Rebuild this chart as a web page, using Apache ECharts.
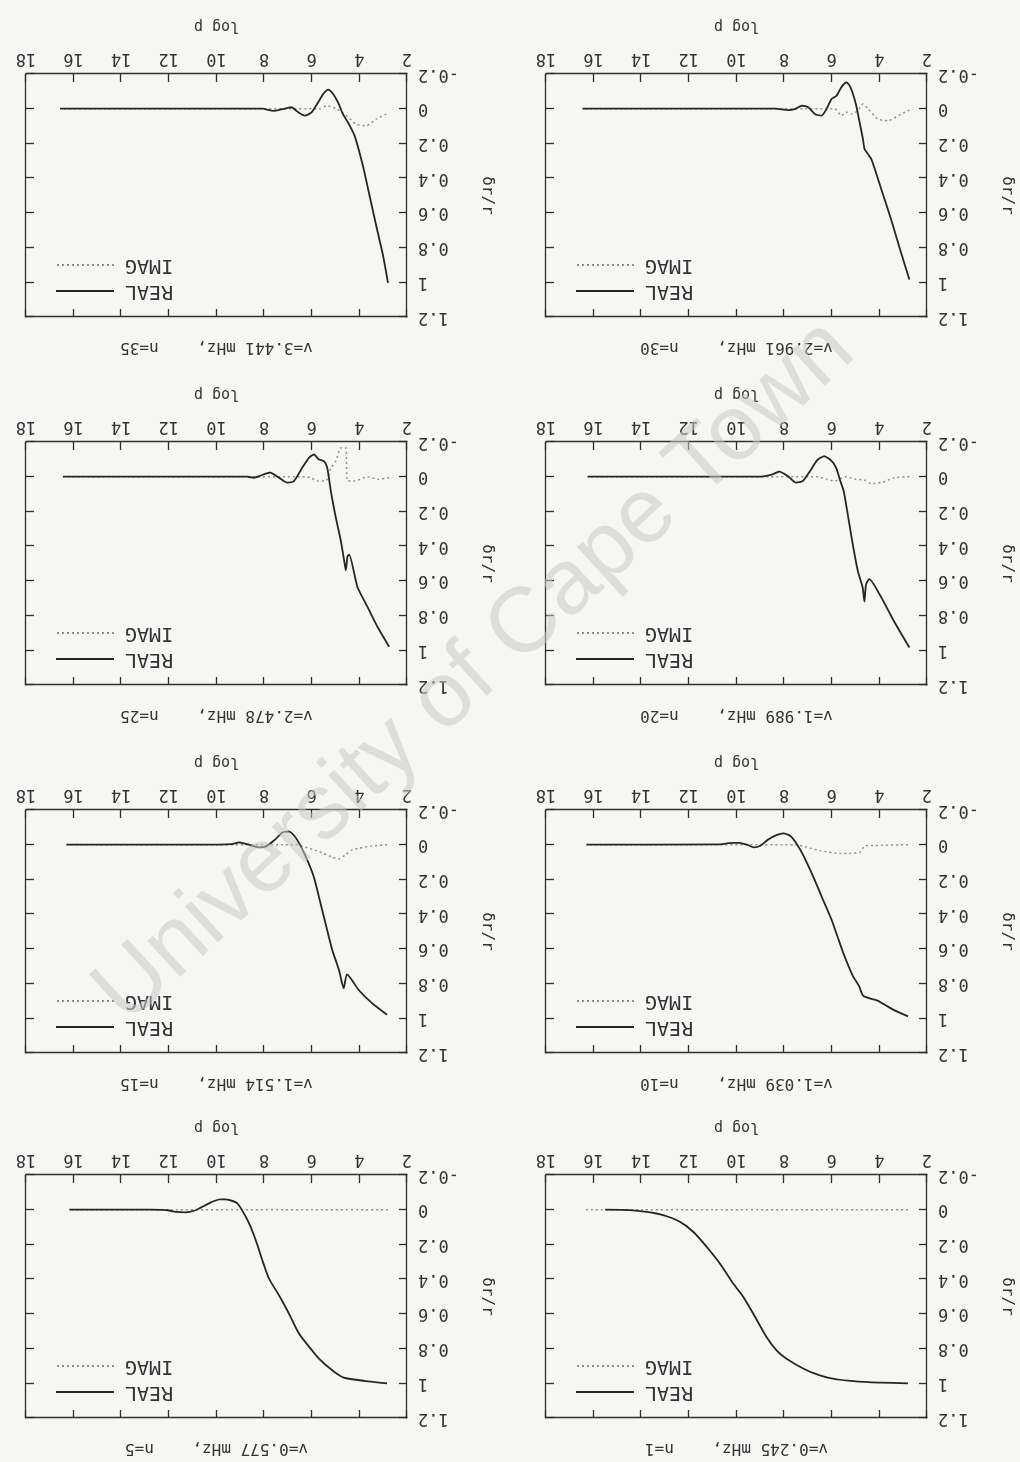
<!DOCTYPE html>
<html><head><meta charset="utf-8">
<script src="https://cdn.jsdelivr.net/npm/echarts@6/dist/echarts.min.js"></script>
<style>
html,body{margin:0;padding:0;background:#f6f6f4;}
#chart{width:1020px;height:1462px;transform:rotate(180deg);transform-origin:50% 50%;}
</style></head><body><div id="chart"></div>
<script>
// The scanned page is upside down; the chart is drawn upright and the container is turned 180 degrees.
const panelTitles = [
  'v=0.245 mHz,    n=1', 'v=0.577 mHz,    n=5',
  'v=1.039 mHz,    n=10', 'v=1.514 mHz,    n=15',
  'v=1.989 mHz,    n=20', 'v=2.478 mHz,    n=25',
  'v=2.961 mHz,    n=30', 'v=3.441 mHz,    n=35'
];
const seriesNames = ['REAL', 'IMAG'];
const xAxisName = 'log p';
const yAxisName = 'δr/r';
const watermarkText = 'University of Cape Town';

const real_n1 = [[2.80,1.00],[3.99,0.996],[5.10,0.988],[5.80,0.977],[6.50,0.954],[7.20,0.915],[7.90,0.858],[8.32,0.81],[8.74,0.733],[9.30,0.598],[9.72,0.502],[10.14,0.425],[10.70,0.31],[11.26,0.213],[11.82,0.127],[12.38,0.069],[13.08,0.031],[13.78,0.012],[14.48,0.002],[15.52,0]];
const imag_n1 = [[2.8,0],[5,0],[8,0],[11,0],[14,0],[16.4,0]];

const real_n5 = [[2.84,1.0],[3.75,0.987],[4.66,0.967],[5.14,0.925],[5.70,0.858],[6.05,0.80],[6.54,0.713],[6.96,0.598],[7.38,0.492],[7.80,0.396],[8.08,0.29],[8.29,0.20],[8.57,0.098],[8.85,0.021],[9.13,-0.037],[9.48,-0.056],[9.83,-0.06],[10.18,-0.046],[10.59,-0.017],[10.94,0.006],[11.29,0.015],[11.71,0.012],[12.13,0.002],[12.83,0],[16.18,0]];
const imag_n5 = [[2.8,0],[6,0],[9,0],[12,0],[16.2,0]];

const real_n10 = [[2.8,0.989],[3.42,0.95],[4.05,0.90],[4.68,0.87],[4.85,0.815],[5.1,0.76],[5.51,0.626],[6.0,0.435],[6.42,0.30],[6.77,0.187],[7.19,0.063],[7.47,-0.004],[7.75,-0.052],[8.03,-0.065],[8.3,-0.057],[8.65,-0.032],[9.0,0.006],[9.28,0.015],[9.56,0.0],[9.98,-0.011],[10.4,-0.008],[10.68,-0.002],[16.3,0]];
const imag_n10 = [[2.8,0],[4.05,0.004],[4.6,0.006],[4.82,0.044],[5.24,0.05],[5.65,0.05],[6.49,0.034],[7.05,0.015],[7.47,0],[16.3,0]];

const real_n15 = [[2.84,0.98],[3.47,0.913],[4.03,0.837],[4.52,0.747],[4.66,0.827],[4.86,0.72],[5.14,0.607],[5.42,0.455],[5.7,0.30],[5.91,0.187],[6.12,0.11],[6.4,0.025],[6.68,-0.042],[6.96,-0.076],[7.24,-0.07],[7.52,-0.032],[7.94,0.011],[8.22,0.015],[8.64,0],[9.06,-0.013],[9.34,-0.004],[9.9,0],[16.3,0]];
const imag_n15 = [[2.84,0],[3.5,0.008],[4.03,0.02],[4.3,0.03],[4.6,0.06],[4.86,0.082],[5.14,0.073],[5.5,0.05],[5.9,0.03],[6.26,0.015],[6.68,0],[16.3,0]];

const real_n20 = [[2.74,0.984],[3.37,0.837],[3.93,0.693],[4.42,0.59],[4.56,0.62],[4.63,0.72],[4.70,0.64],[4.91,0.54],[5.12,0.388],[5.33,0.216],[5.5,0.082],[5.64,0.025],[5.82,-0.052],[6.03,-0.094],[6.31,-0.118],[6.59,-0.099],[6.87,-0.042],[7.22,0.025],[7.5,0.034],[7.85,-0.004],[8.2,-0.029],[8.55,-0.01],[8.97,0],[16.25,0]];
const imag_n20 = [[2.74,0],[3.37,0.006],[3.93,0.034],[4.35,0.04],[4.63,0.019],[5.0,0.015],[5.4,0.0],[5.89,0.025],[6.2,0.015],[6.6,0],[16.25,0]];

const real_n25 = [[2.75,0.98],[3.24,0.865],[3.66,0.75],[4.08,0.636],[4.43,0.449],[4.50,0.46],[4.57,0.54],[4.62,0.50],[4.78,0.369],[4.99,0.235],[5.2,0.082],[5.35,-0.052],[5.49,-0.09],[5.7,-0.099],[5.91,-0.128],[6.12,-0.109],[6.4,-0.052],[6.75,0.025],[7.03,0.034],[7.38,0.006],[7.74,-0.023],[8.02,-0.013],[8.44,0.006],[8.72,0],[16.45,0]];
const imag_n25 = [[2.75,0.006],[3.24,0.015],[3.66,0.0],[4.2,0.025],[4.5,0.025],[4.57,-0.166],[4.78,-0.166],[4.99,-0.09],[5.2,-0.05],[5.41,0.025],[5.76,0.025],[6.05,0.006],[6.5,0],[16.45,0]];

const real_n30 = [[2.74,0.984],[3.09,0.83],[3.51,0.637],[3.92,0.464],[4.34,0.29],[4.62,0.233],[4.69,0.175],[4.83,0.079],[4.97,-0.017],[5.11,-0.085],[5.25,-0.133],[5.39,-0.152],[5.6,-0.123],[5.8,-0.075],[6.01,-0.056],[6.22,0.002],[6.43,0.04],[6.71,0.031],[6.99,-0.008],[7.27,-0.017],[7.55,0.002],[7.83,0.008],[8.38,0],[16.47,0]];
const imag_n30 = [[2.74,0.008],[3.09,0.031],[3.64,0.069],[4.06,0.06],[4.48,0.0],[4.69,-0.027],[4.9,0.01],[5.18,0.031],[5.39,0.02],[5.6,0.04],[5.88,0],[16.47,0]];

const real_n35 = [[2.8,1.003],[3.0,0.85],[3.29,0.676],[3.57,0.503],[3.85,0.33],[4.2,0.156],[4.48,0.079],[4.69,0.031],[4.9,-0.037],[5.1,-0.085],[5.31,-0.11],[5.52,-0.085],[5.73,-0.037],[6.01,0.021],[6.29,0.04],[6.57,0.021],[6.85,-0.008],[7.2,0.002],[7.62,0.012],[8.04,0],[16.57,0]];
const imag_n35 = [[2.87,0.031],[3.29,0.06],[3.71,0.098],[4.13,0.089],[4.55,0.04],[4.97,0],[5.38,-0.017],[5.66,0],[16.57,0]];

const realData = [real_n1, real_n5, real_n10, real_n15, real_n20, real_n25, real_n30, real_n35];
const imagData = [imag_n1, imag_n5, imag_n10, imag_n15, imag_n20, imag_n25, imag_n30, imag_n35];

const W = 1020;
const colLeft = [93, 613];
const rowTop = [44, 409, 777, 1145];
const gridW = 381, gridH = 243;
const FONT = '"DejaVu Sans Mono", "Liberation Mono", monospace';
const INK = '#333333';
const AX = '#2e2e2e';

const grids = [], xAxes = [], yAxes = [], series = [], legends = [], graphics = [];
for (let i = 0; i < 8; i++) {
  const left = colLeft[i % 2], top = rowTop[Math.floor(i / 2)];
  grids.push({left: left, top: top, width: gridW, height: gridH, containLabel: false});
  const axLine = {show: true, onZero: false, lineStyle: {color: AX, width: 1.3}};
  const axTick = {show: true, inside: true, length: 8, lineStyle: {color: AX, width: 1.3}};
  xAxes.push({type: 'value', gridIndex: i, min: 2, max: 18, interval: 2, position: 'bottom',
    axisLine: axLine, axisTick: axTick, splitLine: {show: false},
    axisLabel: {margin: 7, fontFamily: FONT, fontSize: 17, color: INK},
    name: xAxisName, nameLocation: 'middle', nameGap: 41,
    nameTextStyle: {fontFamily: FONT, fontSize: 15, color: INK}});
  yAxes.push({type: 'value', gridIndex: i, min: -0.2, max: 1.2, interval: 0.2, position: 'left',
    axisLine: axLine, axisTick: axTick, splitLine: {show: false},
    axisLabel: {margin: 11, fontFamily: FONT, fontSize: 17, color: INK},
    name: yAxisName, nameLocation: 'middle', nameRotate: 90, nameGap: 72,
    nameTextStyle: {fontFamily: FONT, fontSize: 16, color: INK}});
  series.push({type: 'line', name: seriesNames[1], xAxisIndex: i, yAxisIndex: i, data: imagData[i],
    symbol: 'none', smooth: 0.2, animation: false,
    lineStyle: {color: '#8e8e8e', width: 1.5, type: [2, 3]}, itemStyle: {color: '#8e8e8e'}});
  series.push({type: 'line', name: seriesNames[0], xAxisIndex: i, yAxisIndex: i, data: realData[i],
    symbol: 'none', smooth: 0.2, animation: false,
    lineStyle: {color: '#262626', width: 1.8}, itemStyle: {color: '#262626'}});
  legends.push({data: seriesNames, orient: 'vertical', align: 'right', selectedMode: false,
    right: W - (left + gridW - 24), top: top + 11, itemWidth: 58, itemHeight: 14, itemGap: 6,
    itemStyle: {opacity: 0},
    textStyle: {fontFamily: FONT, fontSize: 20, color: INK, padding: [0, 6, 0, 0]}});
  graphics.push({type: 'text', x: left + gridW / 2, y: top - 30, z: 10,
    style: {text: panelTitles[i], font: '16px ' + FONT, fill: INK, textAlign: 'center', textVerticalAlign: 'middle'}});
}
// mirrored tick marks on the opposite sides (gnuplot style box)
for (let i = 0; i < 8; i++) {
  const axLine = {show: true, onZero: false, lineStyle: {color: AX, width: 1.3}};
  const axTick = {show: true, inside: true, length: 8, lineStyle: {color: AX, width: 1.3}};
  xAxes.push({type: 'value', gridIndex: i, min: 2, max: 18, interval: 2, position: 'top',
    axisLine: axLine, axisTick: axTick, axisLabel: {show: false}, splitLine: {show: false}});
  yAxes.push({type: 'value', gridIndex: i, min: -0.2, max: 1.2, interval: 0.2, position: 'right',
    axisLine: axLine, axisTick: axTick, axisLabel: {show: false}, splitLine: {show: false}});
}
// watermark (upright on the final page, so it is counter-rotated inside the turned container)
graphics.push({type: 'text', x: 545, y: 790, rotation: 0.742 + Math.PI, z: 100,
  style: {text: watermarkText, font: '92px "Liberation Sans", Arial, sans-serif',
    fill: 'rgba(200,200,200,0.55)', textAlign: 'center', textVerticalAlign: 'middle'}});

const chart = echarts.init(document.getElementById('chart'));
chart.setOption({
  backgroundColor: '#f6f6f4',
  animation: false,
  grid: grids, xAxis: xAxes, yAxis: yAxes, series: series, legend: legends, graphic: graphics
});
</script></body></html>
